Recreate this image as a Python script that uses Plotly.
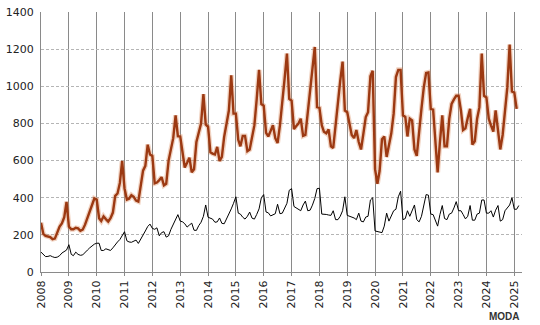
import pandas as pd
import plotly.graph_objects as go

start_month = "2008-01-01"

# Monthly values, Jan 2008 onwards (upper series)
brown_values = [
    265, 205, 195, 193, 188, 177, 180, 212, 245, 262, 295, 378,   # 2008
    245, 230, 230, 238, 235, 222, 228, 255, 290, 325, 370, 396,   # 2009
    390, 290, 275, 300, 285, 272, 290, 320, 410, 423, 480, 598,   # 2010
    450, 390, 395, 414, 405, 385, 380, 455, 546, 572, 686, 633,   # 2011
    625, 478, 482, 495, 511, 467, 475, 600, 660, 721, 844, 732,   # 2012
    730, 640, 563, 588, 616, 537, 553, 700, 760, 800, 958, 795,   # 2013
    782, 645, 638, 633, 674, 598, 620, 730, 800, 870, 1060, 853,  # 2014
    853, 712, 677, 733, 733, 651, 660, 720, 791, 930, 1089, 905,  # 2015
    896, 750, 730, 760, 791, 721, 695, 790, 905, 1040, 1177, 932, # 2016
    923, 770, 785, 800, 826, 733, 738, 860, 990, 1100, 1212, 888, # 2017
    884, 790, 756, 747, 768, 677, 668, 790, 923, 1030, 1133, 870, # 2018
    861, 800, 738, 721, 765, 700, 660, 745, 835, 861, 1054, 1084, # 2019
    554, 475, 545, 715, 730, 620, 680, 747, 853, 1050, 1089, 1089,# 2020
    844, 835, 730, 826, 817, 660, 625, 765, 880, 993, 1072, 1075, # 2021
    879, 875, 704, 537, 700, 844, 677, 677, 826, 905, 930, 949,   # 2022
    949, 870, 765, 774, 830, 879, 686, 704, 826, 888, 1177, 949,  # 2023
    940, 826, 790, 756, 870, 765, 660, 738, 870, 993, 1225, 972,  # 2024
    966, 879,                                                     # 2025
]

# Monthly values, Jan 2008 onwards (lower series)
black_values = [
    107, 97, 83, 84, 88, 82, 78, 80, 88, 102, 110, 118,           # 2008
    147, 95, 88, 107, 95, 90, 92, 107, 118, 130, 143, 150,        # 2009
    155, 155, 116, 116, 125, 120, 116, 130, 150, 162, 175, 195,   # 2010
    217, 168, 162, 160, 168, 172, 154, 175, 195, 221, 245, 258,   # 2011
    235, 230, 238, 195, 212, 217, 188, 195, 230, 255, 280, 309,   # 2012
    274, 270, 260, 242, 253, 263, 225, 224, 250, 268, 300, 361,   # 2013
    295, 290, 285, 268, 270, 291, 262, 260, 285, 309, 340, 370,   # 2014
    405, 317, 312, 295, 285, 300, 323, 290, 285, 310, 340, 400,   # 2015
    417, 323, 319, 302, 310, 314, 365, 314, 317, 340, 370, 440,   # 2016
    449, 353, 345, 335, 330, 361, 382, 330, 333, 360, 396, 449,   # 2017
    451, 312, 312, 310, 307, 305, 330, 282, 282, 300, 330, 405,   # 2018
    305, 300, 298, 291, 282, 317, 274, 270, 296, 300, 388, 400,   # 2019
    221, 219, 217, 212, 247, 317, 274, 300, 330, 338, 405, 435,   # 2020
    282, 288, 330, 300, 330, 361, 282, 270, 300, 360, 417, 414,   # 2021
    312, 309, 280, 247, 309, 358, 288, 282, 312, 317, 345, 379,   # 2022
    330, 330, 310, 286, 300, 358, 279, 279, 312, 317, 388, 388,   # 2023
    317, 317, 330, 296, 333, 358, 274, 282, 330, 345, 361, 400,   # 2024
    338, 338, 358,                                                # 2025
]

year_ticks = [str(y) for y in range(2008, 2026)]
y_ticks = [0, 200, 400, 600, 800, 1000, 1200, 1400]

brown_dates = pd.date_range(start_month, periods=len(brown_values), freq="MS")
black_dates = pd.date_range(start_month, periods=len(black_values), freq="MS")

fig = go.Figure()
# soft halo under the brown line
fig.add_trace(go.Scatter(x=brown_dates, y=brown_values, mode="lines",
                         line=dict(color="rgba(215,130,80,0.35)", width=5),
                         hoverinfo="skip", showlegend=False))
fig.add_trace(go.Scatter(x=brown_dates, y=brown_values, mode="lines",
                         line=dict(color="#9C3912", width=2.4),
                         showlegend=False))
fig.add_trace(go.Scatter(x=black_dates, y=black_values, mode="lines",
                         line=dict(color="#000000", width=1),
                         showlegend=False))

fig.update_layout(
    width=540, height=325,
    margin=dict(l=36, r=18, t=6, b=53),
    paper_bgcolor="white", plot_bgcolor="white",
    font=dict(family="DejaVu Sans", size=11, color="#222"),
    showlegend=False,
)
fig.update_xaxes(
    type="date",
    range=["2008-01-01", "2025-04-12"],
    tickmode="array",
    tickvals=[f"{y}-01-01" for y in year_ticks],
    ticktext=year_ticks,
    tickangle=-90,
    showgrid=True, gridcolor="#8a8a8a", gridwidth=1,
    showline=True, linecolor="#8a8a8a", linewidth=1,
    ticks="outside", ticklen=3, tickcolor="#8a8a8a",
    tickfont=dict(family="DejaVu Sans", size=11, color="#222"),
    zeroline=False,
)
fig.update_yaxes(
    range=[0, 1400.5],
    tickmode="array", tickvals=y_ticks, ticktext=[str(v) for v in y_ticks],
    showgrid=True, gridcolor="#b5b5b5", gridwidth=1, griddash="3px,2px",
    showline=True, linecolor="#8a8a8a", linewidth=1,
    ticks="", ticklabelstandoff=4, ticklabeloverflow="allow",
    tickfont=dict(family="DejaVu Sans", size=11, color="#222"),
    zeroline=False,
)

fig.add_annotation(xref="paper", yref="paper", x=1.0, y=-0.17,
                   xanchor="right", yanchor="middle", showarrow=False,
                   text="<b>MODA</b>",
                   font=dict(family="Liberation Sans", size=10, color="#333"))

fig.write_html("out.html")
